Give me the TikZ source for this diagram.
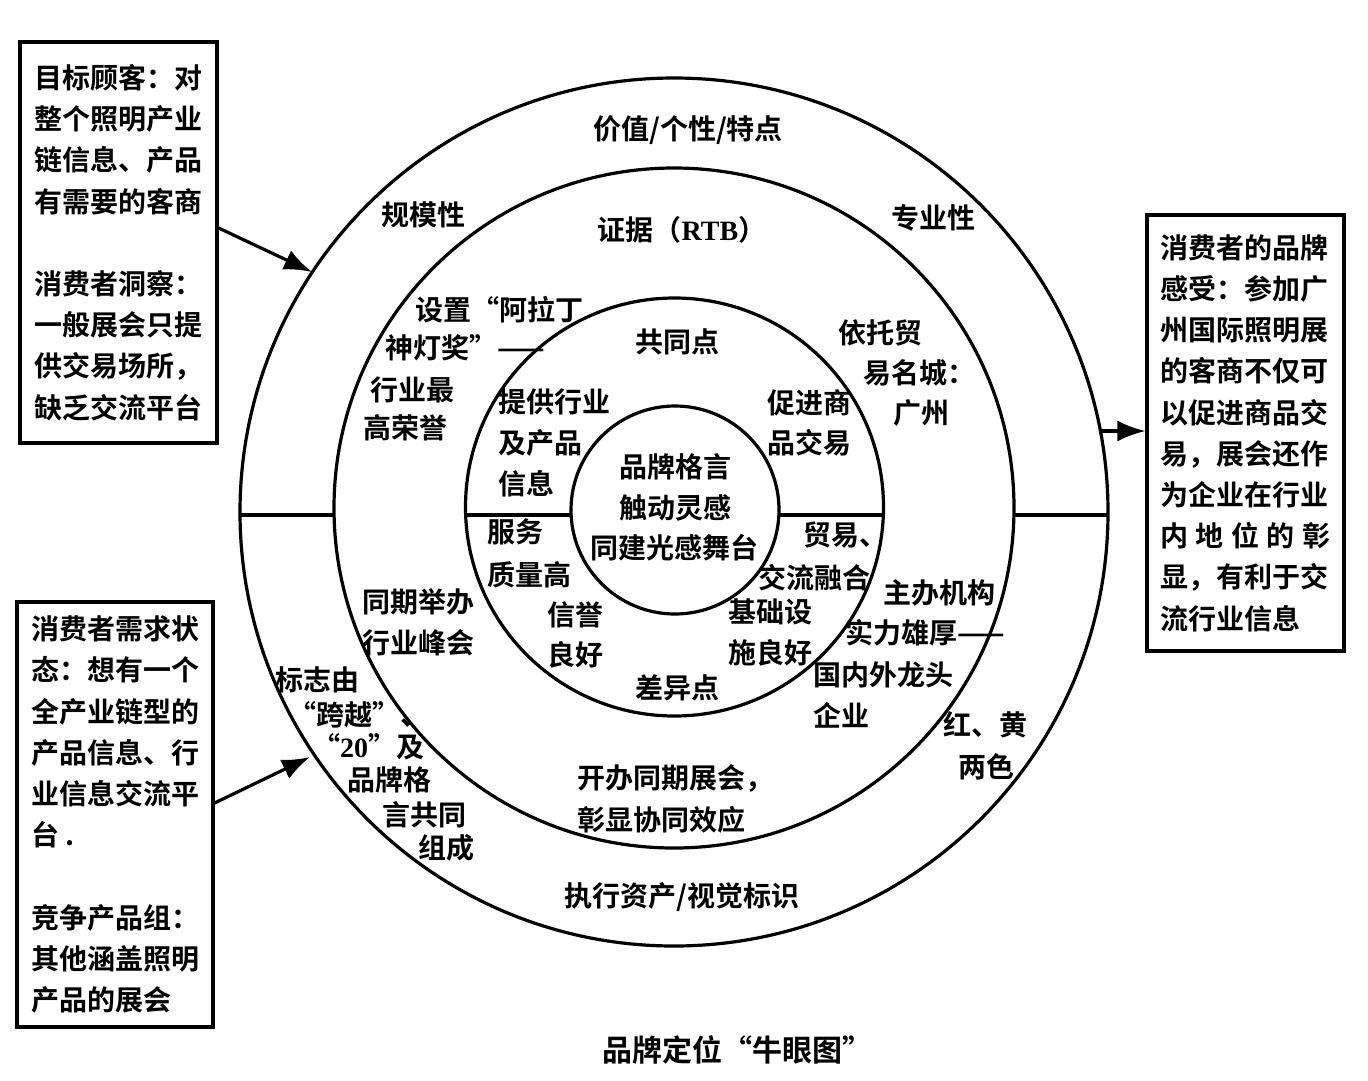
\documentclass[tikz,border=0pt]{standalone}
\usepackage{fontspec}
\newfontfamily\cjk{Noto Sans CJK SC}[BoldFont={Noto Sans CJK SC Bold}]
\newfontfamily\lat{Liberation Serif}
\usetikzlibrary{arrows.meta}
\begin{document}
\begin{tikzpicture}[x=1pt,y=-1pt,
  lbl/.style={font=\cjk\bfseries\fontsize{28}{34}\selectfont, inner sep=0pt, anchor=west},
  ctr/.style={lbl, anchor=center},
  ring/.style={line width=3.2pt},
  infobox/.style={draw, line width=3.2pt, font=\cjk\bfseries\fontsize{28}{41.2}\selectfont, align=left, inner sep=0pt},
  arr/.style={line width=3.2pt, -{Latex[length=28pt,width=21pt]}}]
\useasboundingbox (0,0) rectangle (1368,1080);
\fill[white] (0,0) rectangle (1368,1080);

% rings
\coordinate (c1) at (674,512);
\coordinate (c2) at (674,508);
\coordinate (c3) at (674.5,507);
\coordinate (c4) at (675,510);
\draw[ring] (c1) circle[radius=434pt];
\draw[ring] (c2) circle[radius=340pt];
\draw[ring] (c3) circle[radius=209pt];
\draw[ring] (c4) circle[radius=104pt];
% divider segments
\draw[ring] (240,515) -- (334,515);
\draw[ring] (466,515) -- (571,515);
\draw[ring] (779,515) -- (883,515);
\draw[ring] (1014,515) -- (1108,515);

% side boxes
\node[infobox, minimum width=197pt, minimum height=401pt] (b1) at (118.5,242.5) {目标顾客：对\\整个照明产业\\链信息、产品\\有需要的客商\\[41.2pt]消费者洞察：\\一般展会只提\\供交易场所，\\缺乏交流平台};
\node[infobox, minimum width=196pt, minimum height=425pt] (b2) at (115,814.5) {消费者需求状\\态：想有一个\\全产业链型的\\产品信息、行\\业信息交流平\\台 .\\[41.2pt]竞争产品组：\\其他涵盖照明\\产品的展会};
\node[infobox, minimum width=197pt, minimum height=436pt] (b3) at (1245.5,433) {消费者的品牌\\感受：参加广\\州国际照明展\\的客商不仅可\\以促进商品交\\易，展会还作\\为企业在行业\\\makebox[170pt][s]{内\hfil 地\hfil 位\hfil 的\hfil 彰}\\显，有利于交\\流行业信息};

% arrows
\coordinate (p1) at (312,272);
\coordinate (p2) at (310,757);
\coordinate (p3) at (1100,431);
\draw[arr] ([yshift=14.5pt]b1.east) -- (p1);
\draw[arr] ([yshift=11.5pt]b2.east) -- (p2);
\draw[arr] (p3) -- ([yshift=2pt]b3.west);

% ring labels
\node[ctr] (n1) at (688,130) {价值/个性/特点};
\node[ctr] (n2) at (423,215) {规模性};
\node[ctr] (n3) at (933,218) {专业性};
\node[ctr] (n4) at (682,230) {证据（{\lat\bfseries RTB}）};
\node[lbl] (n5) at (415,310) {设置“阿拉丁};
\node[lbl] (n6) at (385,348) {神灯奖”——};
\node[lbl] (n7) at (370,390) {行业最};
\node[lbl] (n8) at (363,428) {高荣誉};
\node[ctr] (n9) at (677,342) {共同点};
\node[lbl] (n10) at (838,333) {依托贸};
\node[lbl] (n11) at (863,373) {易名城：};
\node[lbl] (n12) at (893,413) {广州};
\node[lbl] (n13) at (498,402) {提供行业};
\node[lbl] (n14) at (498,443) {及产品};
\node[lbl] (n15) at (498,484) {信息};
\node[lbl] (n16) at (767,403) {促进商};
\node[lbl] (n17) at (767,443) {品交易};
\node[ctr] (n18) at (675,467) {品牌格言};
\node[ctr] (n19) at (675,508) {触动灵感};
\node[ctr] (n20) at (674,548) {同建光感舞台};
\node[lbl] (n21) at (487,532) {服务};
\node[lbl] (n22) at (487,575) {质量高};
\node[lbl] (n23) at (547,615) {信誉};
\node[lbl] (n24) at (547,655) {良好};
\node[lbl] (n25) at (803,535) {贸易、};
\node[lbl] (n26) at (758,578) {交流融合};
\node[lbl] (n27) at (728,612) {基础设};
\node[lbl] (n28) at (728,653) {施良好};
\node[ctr] (n29) at (677,688) {差异点};
\node[lbl] (n30) at (362,602) {同期举办};
\node[lbl] (n31) at (362,643) {行业峰会};
\node[lbl] (n32) at (883,593) {主办机构};
\node[lbl] (n33) at (845,633) {实力雄厚——};
\node[lbl] (n34) at (813,675) {国内外龙头};
\node[lbl] (n35) at (813,715) {企业};
\node[lbl] (n36) at (943,725) {红、黄};
\node[lbl] (n37) at (958,767) {两色};
\node[lbl] (n38) at (275,680) {标志由};
\node[lbl] (n39) at (288,715) {“跨越”、};
\node[lbl] (n40) at (312,747) {“{\lat\bfseries 20}”及};
\node[lbl] (n41) at (347,780) {品牌格};
\node[lbl] (n42) at (382,815) {言共同};
\node[lbl] (n43) at (418,848) {组成};
\node[lbl] (n44) at (577,778) {开办同期展会，};
\node[lbl] (n45) at (577,820) {彰显协同效应};
\node[ctr] (n46) at (682,897) {执行资产/视觉标识};
\node[ctr, font=\cjk\bfseries\fontsize{30}{36}\selectfont] (cap) at (737,1050) {品牌定位“牛眼图”};
\end{tikzpicture}
\end{document}
